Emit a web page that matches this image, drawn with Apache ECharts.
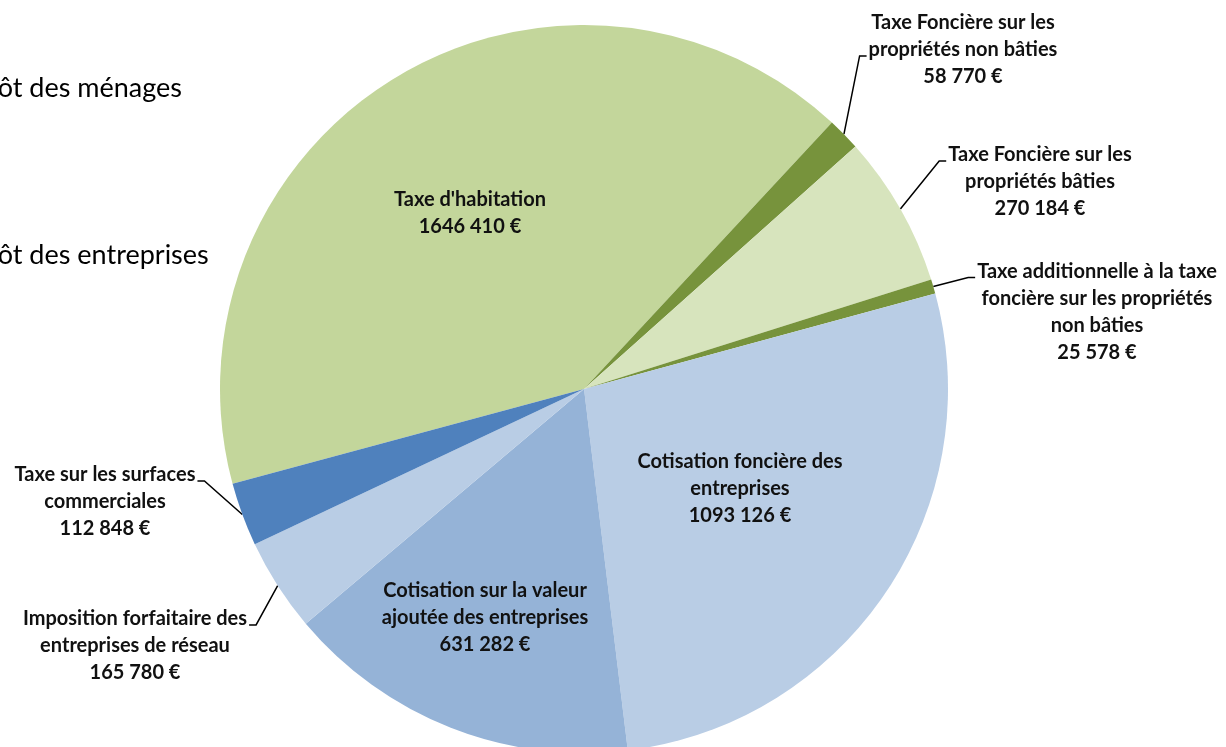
<!DOCTYPE html>
<html>
<head>
<meta charset="utf-8">
<script src="https://cdn.jsdelivr.net/npm/echarts@6/dist/echarts.min.js"></script>
<style>
  html, body { margin: 0; padding: 0; background: #fff; }
  #chart { width: 1226px; height: 747px; }
</style>
</head>
<body>
<div id="chart"></div>
<script>
// slices, clockwise from the lower left edge of "Taxe d'habitation"
const categories = [
  "Taxe d'habitation",
  'Taxe Foncière sur les\npropriétés non bâties',
  'Taxe Foncière sur les\npropriétés bâties',
  'Taxe additionnelle à la taxe\nfoncière sur les propriétés\nnon bâties',
  'Cotisation foncière des\nentreprises',
  'Cotisation sur la valeur\najoutée des entreprises',
  'Imposition forfaitaire des\nentreprises de réseau',
  'Taxe sur les surfaces\ncommerciales'
];
const values = [1646410, 58770, 270184, 25578, 1093126, 631282, 165780, 112848];
const colors = ['#C3D69B', '#77933C', '#D7E4BD', '#77933C', '#B9CDE5', '#95B3D7', '#B9CDE5', '#4F81BD'];
const legendTexts = ['Impôt des ménages', 'Impôt des entreprises'];

// label centres (pixels) and which text line the leader line meets (null = inside label)
const labelPos = [
  [470, 213], [963, 50], [1040, 182], [1097, 312],
  [740, 489], [485, 618], [135, 646], [105, 502]
];
const attachLine = [null, 1, 0, 0, null, null, 0, 0];
const LINE_H = 27;

function euro(v) {
  const hi = Math.floor(v / 1000);
  const lo = String(v % 1000).padStart(3, '0');
  return (hi > 0 ? hi + ' ' + lo : lo) + ' €';
}

const chart = echarts.init(document.getElementById('chart'));

const data = categories.map((name, i) => ({
  name,
  value: values[i],
  itemStyle: { color: colors[i] },
  labelLine: { show: attachLine[i] !== null }
}));

chart.setOption({
  animation: false,
  graphic: legendTexts.map((t, i) => ({
    type: 'text',
    x: -47,
    y: i === 0 ? 88 : 255,
    style: { text: t, font: '27px Lato', fill: '#000', verticalAlign: 'middle' }
  })),
  series: [{
    type: 'pie',
    center: [584, 389],
    radius: 364,
    startAngle: 195.1,
    clockwise: true,
    avoidLabelOverlap: false,
    silent: true,
    itemStyle: { borderWidth: 0 },
    label: {
      show: true,
      formatter: p => p.name + '\n' + euro(p.value),
      fontFamily: 'Lato',
      fontWeight: 'bold',
      fontSize: 20,
      lineHeight: LINE_H,
      color: '#111',
      align: 'center'
    },
    labelLine: {
      show: true,
      length: 30,
      length2: 6,
      lineStyle: { color: '#000', width: 1.5 }
    },
    labelLayout: function (params) {
      const i = params.dataIndex;
      const p = labelPos[i];
      const out = { x: p[0], y: p[1], align: 'center', verticalAlign: 'middle' };
      if (attachLine[i] !== null && params.labelLinePoints) {
        const w = params.labelRect.width;
        const h = params.labelRect.height;
        const ay = p[1] - h / 2 + LINE_H * (attachLine[i] + 0.72);
        const right = p[0] > 584;
        const ex = right ? p[0] - w / 2 - 2 : p[0] + w / 2 + 2;
        const bx = right ? ex - 7 : ex + 7;
        out.labelLinePoints = [params.labelLinePoints[0].slice(), [bx, ay], [ex, ay]];
      }
      return out;
    },
    data
  }]
});
</script>
</body>
</html>
